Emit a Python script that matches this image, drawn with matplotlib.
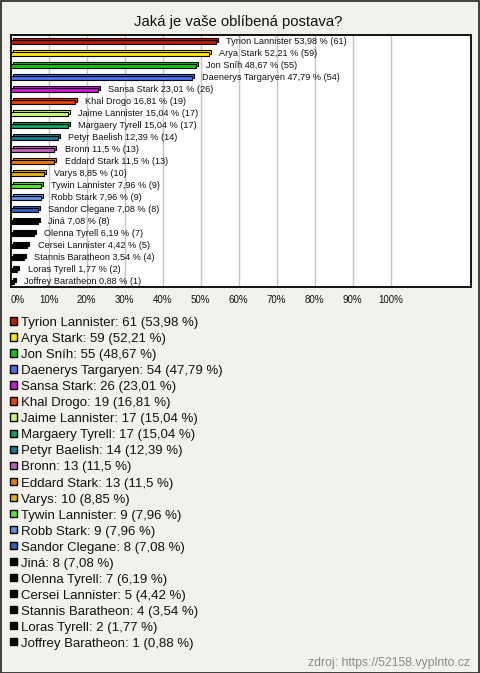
import matplotlib
matplotlib.use("Agg")
import matplotlib.pyplot as plt
import matplotlib.transforms as mtransforms
from matplotlib.patches import Rectangle

plt.rcParams['font.family'] = ['Liberation Sans', 'DejaVu Sans']

title = "Jaká je vaše oblíbená postava?"
names = ["Tyrion Lannister", "Arya Stark", "Jon Sníh", "Daenerys Targaryen", "Sansa Stark",
         "Khal Drogo", "Jaime Lannister", "Margaery Tyrell", "Petyr Baelish", "Bronn",
         "Eddard Stark", "Varys", "Tywin Lannister", "Robb Stark", "Sandor Clegane",
         "Jiná", "Olenna Tyrell", "Cersei Lannister", "Stannis Baratheon", "Loras Tyrell",
         "Joffrey Baratheon"]
counts = [61, 59, 55, 54, 26, 19, 17, 17, 14, 13, 13, 10, 9, 9, 8, 8, 7, 5, 4, 2, 1]
percents = [53.98, 52.21, 48.67, 47.79, 23.01, 16.81, 15.04, 15.04, 12.39, 11.5,
            11.5, 8.85, 7.96, 7.96, 7.08, 7.08, 6.19, 4.42, 3.54, 1.77, 0.88]
colors = ["#C01A06", "#FFE600", "#12C412", "#4A70F2", "#C81AD8", "#E8400A", "#C8FF78",
          "#10A060", "#1A7C90", "#C060C0", "#E87A10", "#E8B010", "#50E830", "#6090E0",
          "#3060C0", "#000000", "#000000", "#000000", "#000000", "#000000", "#000000"]
xticks = [0, 10, 20, 30, 40, 50, 60, 70, 80, 90, 100]
source = "zdroj: https://52158.vyplnto.cz"


def fmt(v):
    s = ("%.2f" % v).rstrip("0").rstrip(".")
    return s.replace(".", ",")


W, H = 480, 673
bg = "#F3F2EA"
fig = plt.figure(figsize=(W / 100, H / 100), dpi=100, facecolor=bg)

# outer border
fig.patches.append(Rectangle((0.5 / W, 0.5 / H), 1 - 1.5 / W, 1 - 1.5 / H, transform=fig.transFigure,
                             fill=False, edgecolor="#202020", linewidth=1.2))

fig.text(238 / W, 1 - 26 / H, title, ha="center", va="baseline", fontsize=10.7, color="#111111")

ax_l, ax_r, ax_t, ax_b = 10.7, 470.5, 35, 287
ax = fig.add_axes([ax_l / W, 1 - ax_b / H, (ax_r - ax_l) / W, (ax_b - ax_t) / H])
ax.set_facecolor("white")
for s in ax.spines.values():
    s.set_linewidth(1.3)
    s.set_color("black")

n = len(names)
ax.set_xlim(0, (ax_r - ax_l) / 3.8)
ax.set_ylim(n - 0.5, -0.5)
for t in xticks[1:]:
    ax.axvline(t, color="#C4C4C4", linewidth=1.0, zorder=0)

ypos = list(range(n))
yb = [y + 0.08 for y in ypos]
back = mtransforms.offset_copy(ax.transData, fig=fig, x=2, y=2, units="dots")
ax.barh(yb, percents, height=0.36, color=colors, edgecolor="black", linewidth=0.8,
        transform=back, zorder=2)
ax.barh(yb, percents, height=0.36, color=colors, edgecolor="black", linewidth=0.8, zorder=3)

for y, nm, p, c in zip(ypos, names, percents, counts):
    ax.annotate(f"{nm} {fmt(p)} % ({c})", xy=(p, y + 0.29), xytext=(7.3, 0), textcoords="offset points",
                ha="left", va="baseline", fontsize=6.6, color="#111111", zorder=4)

ax.set_yticks([])
ax.set_xticks([])
for t in xticks:
    ax.annotate(f"{t}%", xy=(t, 0), xycoords=("data", "axes fraction"),
                xytext=(0, -11.7), textcoords="offset points",
                ha="left" if t == 0 else "center", va="baseline", fontsize=7, color="#111111",
                annotation_clip=False)

# legend
y0 = 321.0
for i, (nm, c, p, col) in enumerate(zip(names, counts, percents, colors)):
    yy = y0 + i * 16.03
    fig.patches.append(Rectangle((9.5 / W, 1 - (yy + 3.7) / H), 7.4 / W, 7.4 / H, transform=fig.transFigure,
                                 facecolor=col, edgecolor="black", linewidth=1.0))
    fig.text(20.7 / W, 1 - (yy + 5.2) / H, f"{nm}: {c} ({fmt(p)} %)", ha="left", va="baseline",
             fontsize=9.5, color="#111111")

fig.text(470 / W, 1 - 666 / H, source, ha="right", va="baseline", fontsize=8.8, color="#8A8A8A")

fig.savefig("out.png", dpi=100, facecolor=bg)
